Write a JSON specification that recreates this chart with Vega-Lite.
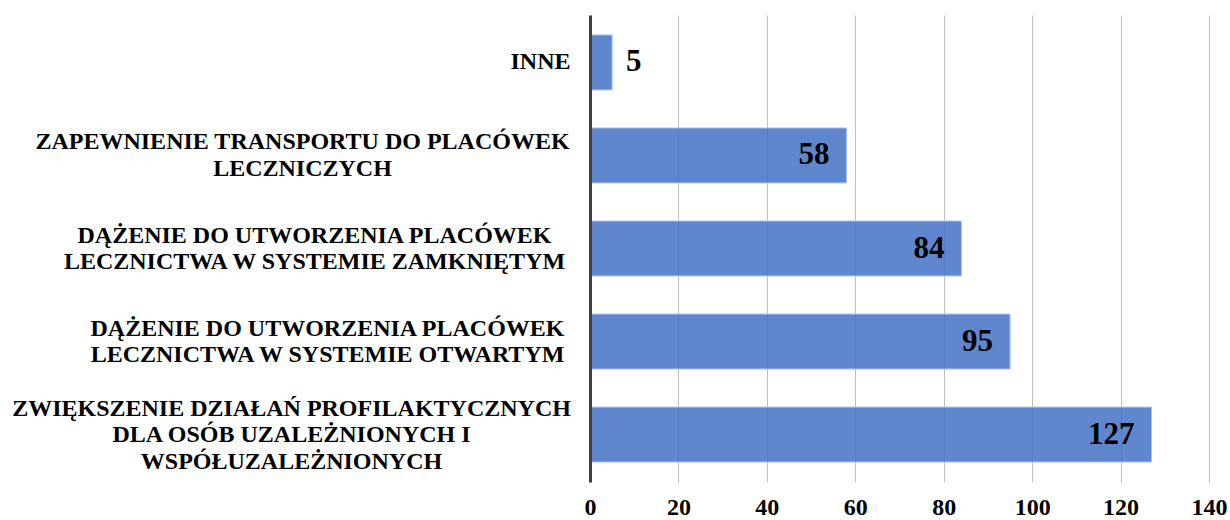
{
  "$schema": "https://vega.github.io/schema/vega-lite/v6.json",
  "autosize": "none",
  "width": 619,
  "height": 467,
  "padding": {"left": 590, "top": 15, "right": 21, "bottom": 38},
  "background": "white",
  "config": {"view": {"stroke": null}},
  "data": {
    "values": [
      {"cat": "INNE", "value": 5},
      {"cat": "ZAPEWNIENIE TRANSPORTU DO PLACÓWEK|LECZNICZYCH", "value": 58},
      {"cat": "DĄŻENIE DO UTWORZENIA PLACÓWEK|LECZNICTWA W SYSTEMIE ZAMKNIĘTYM", "value": 84},
      {"cat": "DĄŻENIE DO UTWORZENIA PLACÓWEK|LECZNICTWA W SYSTEMIE OTWARTYM", "value": 95},
      {"cat": "ZWIĘKSZENIE DZIAŁAŃ PROFILAKTYCZNYCH|DLA OSÓB UZALEŻNIONYCH I|WSPÓŁUZALEŻNIONYCH", "value": 127}
    ]
  },
  "encoding": {
    "y": {
      "field": "cat",
      "type": "nominal",
      "sort": null,
      "title": null,
      "scale": {"paddingInner": 0.41, "paddingOuter": 0.215},
      "axis": {
        "zindex": 2,
        "domain": true,
        "domainColor": "#404040",
        "domainWidth": 3,
        "ticks": false,
        "tickSize": 0,
        "grid": false,
        "labelAlign": "center",
        "labelBaseline": "middle",
        "labelPadding": {
          "condition": [
            {"test": "datum.value == 'INNE'", "value": 50},
            {"test": "indexof(datum.value, 'ZAPEWNIENIE') == 0", "value": 288},
            {"test": "indexof(datum.value, 'ZAMKNI') >= 0", "value": 276},
            {"test": "indexof(datum.value, 'OTWART') >= 0", "value": 263}
          ],
          "value": 299
        },
        "labelOffset": {
          "condition": [
            {"test": "datum.value == 'INNE'", "value": 0},
            {"test": "indexof(datum.value, 'ZWI') == 0", "value": -26}
          ],
          "value": -13
        },
        "labelFont": "Liberation Serif",
        "labelFontWeight": "bold",
        "labelFontSize": 24,
        "labelLineHeight": 26.5,
        "labelColor": "#000000",
        "labelLimit": 0,
        "labelExpr": "split(datum.label, '|')"
      }
    },
    "x": {
      "field": "value",
      "type": "quantitative",
      "title": null,
      "scale": {"domain": [0, 140], "nice": false},
      "axis": {
        "values": [0, 20, 40, 60, 80, 100, 120, 140],
        "domain": false,
        "ticks": false,
        "tickSize": 0,
        "grid": true,
        "gridColor": "#c0c0c0",
        "gridWidth": 1,
        "labelPadding": 13,
        "labelFont": "Liberation Serif",
        "labelFontWeight": "bold",
        "labelFontSize": 24,
        "labelColor": "#000000",
        "labelFlush": false
      }
    }
  },
  "layer": [
    {
      "mark": {"type": "bar", "fill": "#4472c4", "fillOpacity": 0.85, "stroke": "#a9bfe8", "strokeWidth": 1}
    },
    {
      "transform": [{"filter": "datum.value >= 20"}],
      "mark": {"type": "text", "align": "right", "baseline": "middle", "dx": -17, "font": "Liberation Serif", "fontWeight": "bold", "fontSize": 31, "color": "#000000"},
      "encoding": {"text": {"field": "value", "type": "quantitative"}}
    },
    {
      "transform": [{"filter": "datum.value < 20"}],
      "mark": {"type": "text", "align": "left", "baseline": "middle", "dx": 14, "font": "Liberation Serif", "fontWeight": "bold", "fontSize": 31, "color": "#000000"},
      "encoding": {"text": {"field": "value", "type": "quantitative"}}
    }
  ]
}
